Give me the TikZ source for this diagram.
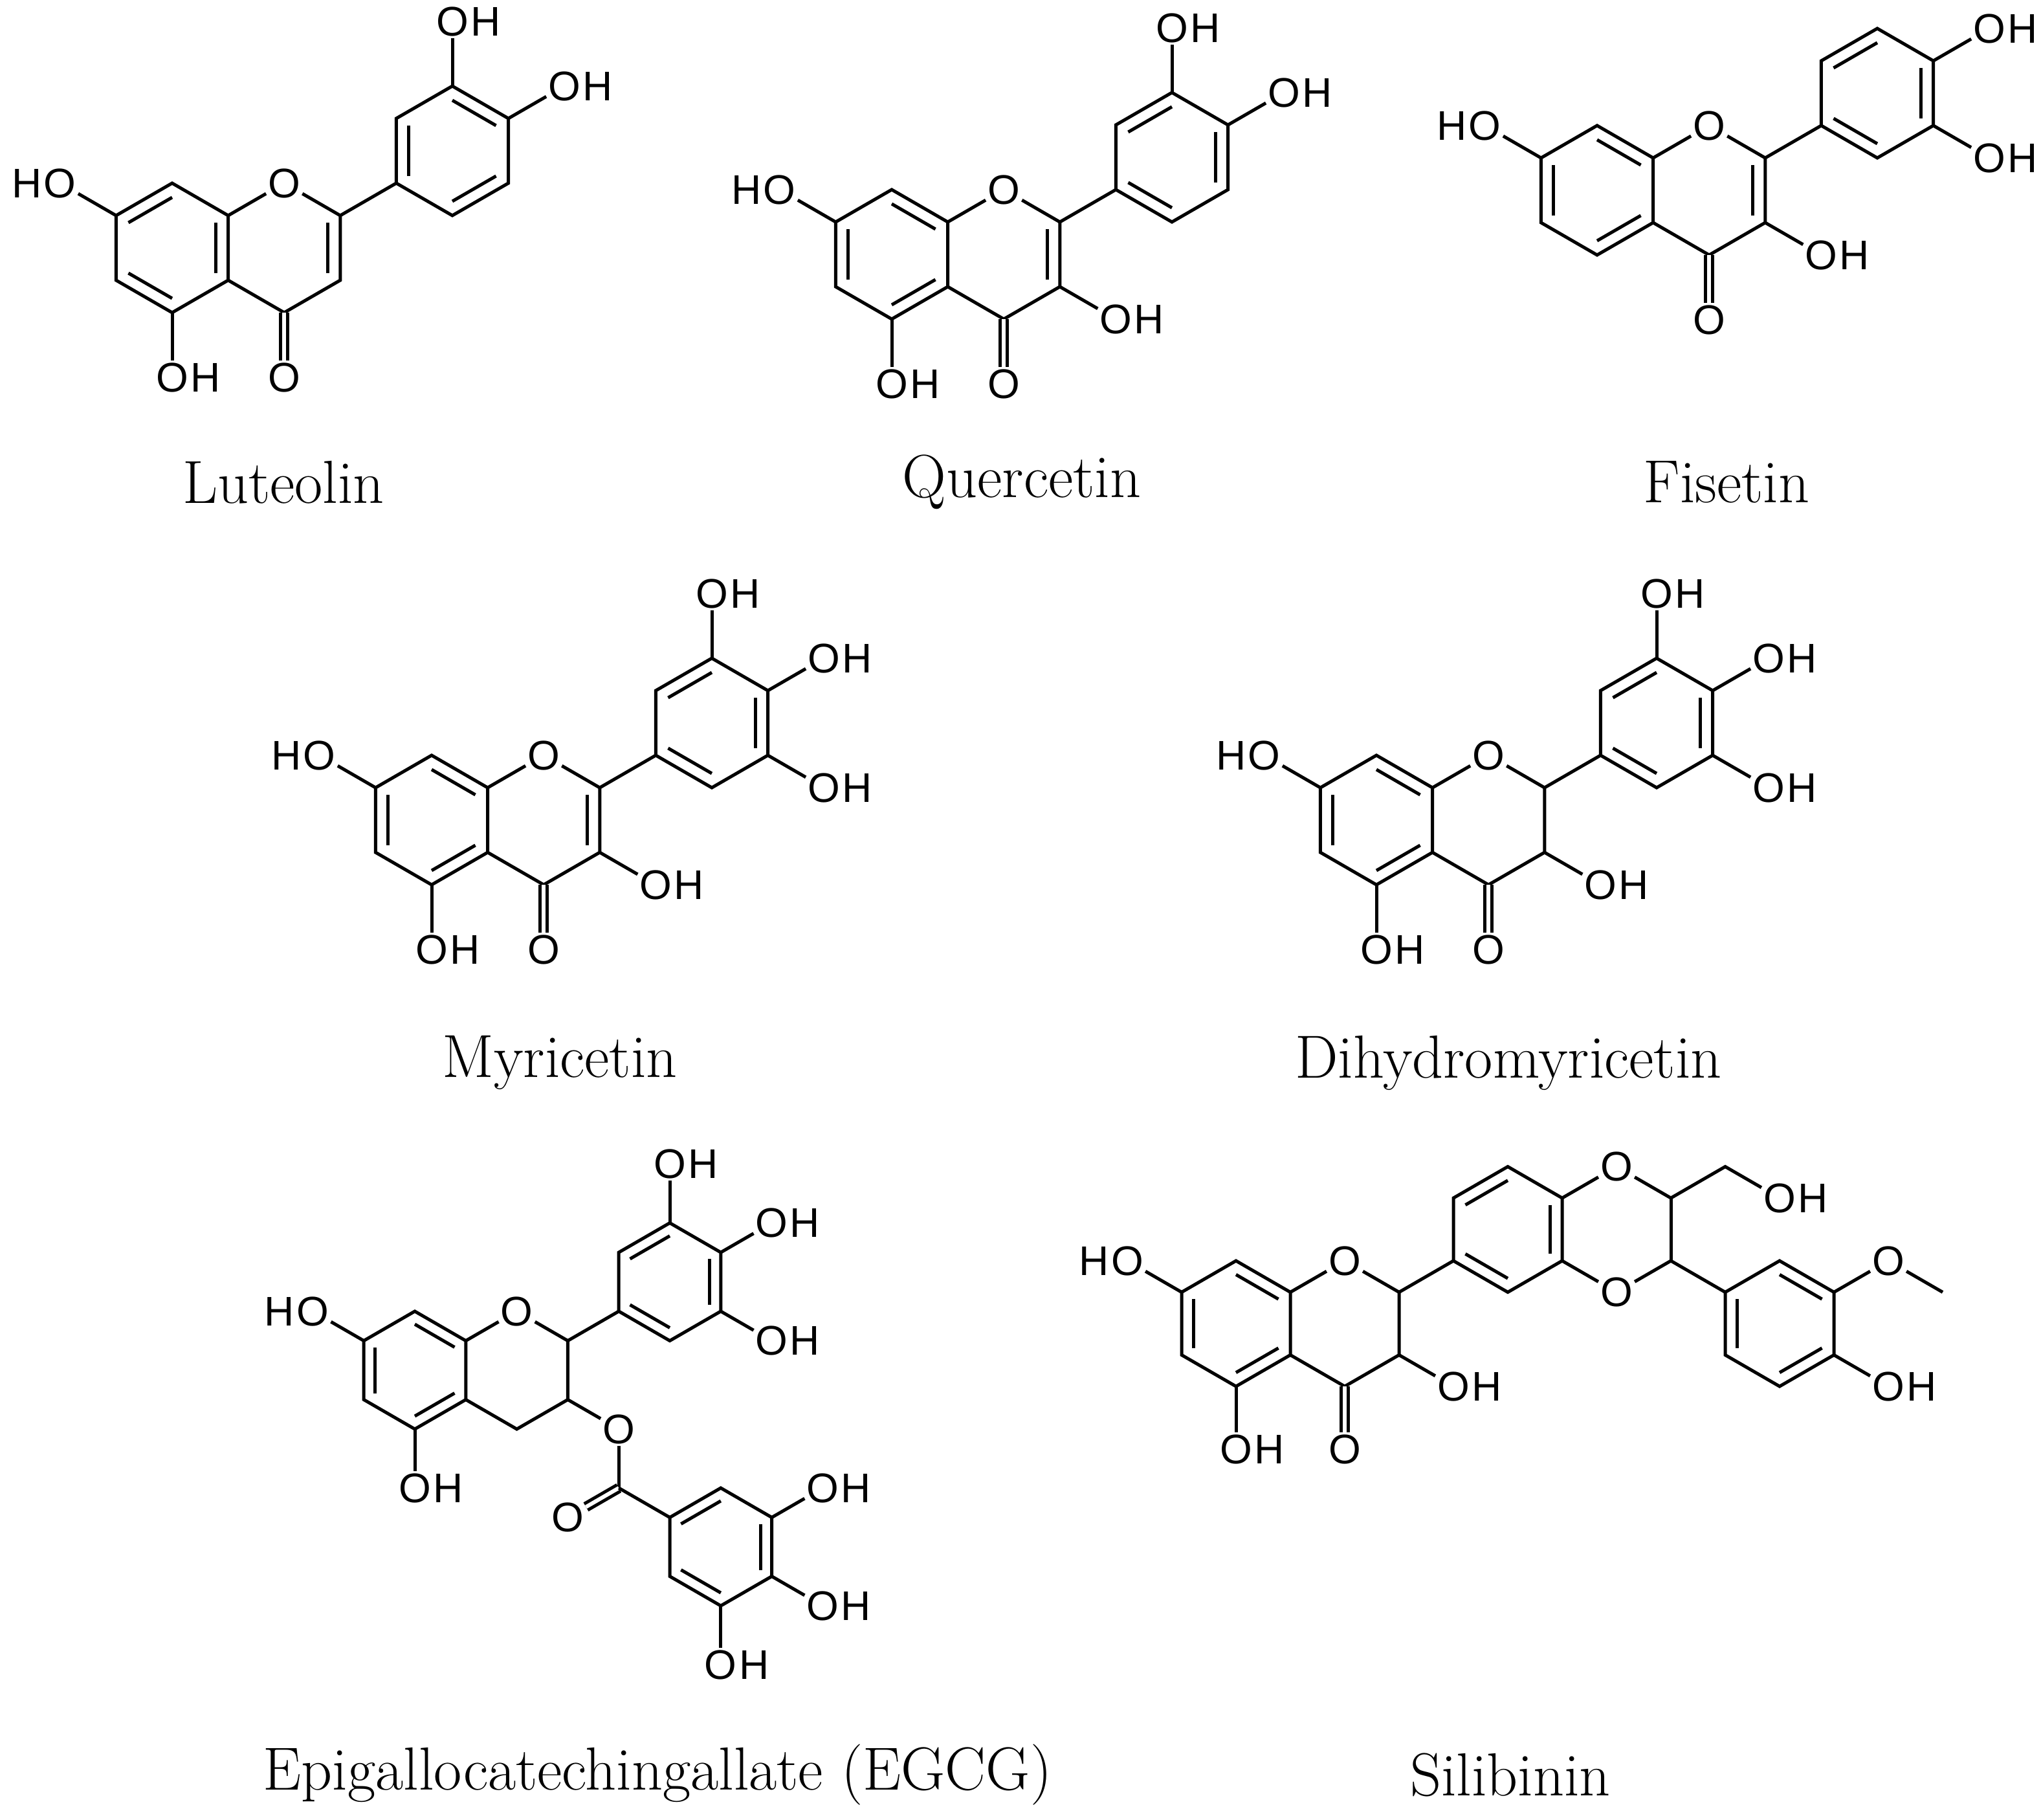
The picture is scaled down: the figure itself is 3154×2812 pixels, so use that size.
\documentclass[tikz,border=0pt]{standalone}
\usepackage{fontspec}
\newfontfamily\atomfont{Liberation Sans}
\usetikzlibrary{calc}
\tikzset{
 bond/.style={line width=5pt},
 dbond/.style={line width=5pt,double,double distance=6pt},
 atom/.style={font=\atomfont\fontsize{64}{64}\selectfont,inner sep=3pt},
 atomh/.style={font=\atomfont\fontsize{64}{64}\selectfont,inner sep=0pt},
 captext/.style={font=\fontsize{94}{110}\selectfont,inner sep=0pt}
}
\newcommand\hexat[3]{%
 \coordinate (#1-c) at ({#2},{#3});
 \coordinate (#1-1) at ({#2},{#3-1});
 \coordinate (#1-2) at ({#2+0.866},{#3-0.5});
 \coordinate (#1-3) at ({#2+0.866},{#3+0.5});
 \coordinate (#1-4) at ({#2},{#3+1});
 \coordinate (#1-5) at ({#2-0.866},{#3+0.5});
 \coordinate (#1-6) at ({#2-0.866},{#3-0.5});}
\newcommand\hexring[1]{\draw[bond] (#1-1)--(#1-2)--(#1-3)--(#1-4)--(#1-5)--(#1-6)--cycle;}
\newcommand\dbl[3]{\draw[bond] ($(#1)!0.78!(#2)$) -- ($(#1)!0.78!(#3)$);}
\newcommand\Oat[2]{\node[atom] (#1) at #2 {O};}
\newcommand\OHat[2]{\node[atom] (#1) at #2 {O};\node[atomh,anchor=base west] (#1h) at (#1.base east) {H};}
\newcommand\HOat[2]{\node[atom] (#1) at #2 {O};\node[atomh,anchor=base east] (#1h) at (#1.base west) {H};}
% flavonoid skeleton (rings A and C)
\newcommand\skel[1]{%
 \hexat{#1A}{0}{0}\hexring{#1A}
 \coordinate (#1C-c) at (1.732,0);
 \Oat{#1O1}{(1.732,-1)}
 \coordinate (#1C2) at (2.598,-0.5);
 \coordinate (#1C3) at (2.598,0.5);
 \coordinate (#1C4) at (1.732,1);
 \draw[bond] (#1A-2)--(#1O1);
 \draw[bond] (#1O1)--(#1C2);
 \draw[bond] (#1C2)--(#1C3)--(#1C4)--(#1A-3);}
\begin{document}
\begin{tikzpicture}[x=1pt,y=-1pt]
\useasboundingbox (0,0) rectangle (3154,2812);
% ---------------- Luteolin
\begin{scope}[shift={(266,383)},x=100pt,y=-100pt]
 \skel{lu}
 \hexat{luB}{4.330}{-1.5}\hexring{luB}
 \draw[bond] (luC2)--(luB-5);
 \dbl{luA-c}{luA-6}{luA-1}\dbl{luA-c}{luA-5}{luA-4}\dbl{luA-c}{luA-2}{luA-3}
 \dbl{luC-c}{luC2}{luC3}
 \dbl{luB-c}{luB-5}{luB-6}\dbl{luB-c}{luB-1}{luB-2}\dbl{luB-c}{luB-3}{luB-4}
 \HOat{luO7}{(-1.732,-1)}\draw[bond] (luA-6)--(luO7);
 \OHat{luO5}{(0,2)}\draw[bond] (luA-4)--(luO5);
 \Oat{luO4}{(1.732,2)}\draw[dbond] (luC4)--(luO4);
 \OHat{luO3p}{(4.330,-3.5)}\draw[bond] (luB-1)--(luO3p);
 \OHat{luO4p}{(6.062,-2.5)}\draw[bond] (luB-2)--(luO4p);
\end{scope}
\node[captext] (lucap) at (438,745) {Luteolin};
% ---------------- Quercetin
\begin{scope}[shift={(1378,393)},x=100pt,y=-100pt]
 \skel{qu}
 \hexat{quB}{4.330}{-1.5}\hexring{quB}
 \draw[bond] (quC2)--(quB-5);
 \dbl{quA-c}{quA-1}{quA-2}\dbl{quA-c}{quA-5}{quA-6}\dbl{quA-c}{quA-3}{quA-4}
 \dbl{quC-c}{quC2}{quC3}
 \dbl{quB-c}{quB-6}{quB-1}\dbl{quB-c}{quB-2}{quB-3}\dbl{quB-c}{quB-4}{quB-5}
 \HOat{quO7}{(-1.732,-1)}\draw[bond] (quA-6)--(quO7);
 \OHat{quO5}{(0,2)}\draw[bond] (quA-4)--(quO5);
 \Oat{quO4}{(1.732,2)}\draw[dbond] (quC4)--(quO4);
 \OHat{quO3}{(3.464,1)}\draw[bond] (quC3)--(quO3);
 \OHat{quO3p}{(4.330,-3.5)}\draw[bond] (quB-1)--(quO3p);
 \OHat{quO4p}{(6.062,-2.5)}\draw[bond] (quB-2)--(quO4p);
\end{scope}
\node[captext] (qucap) at (1579,745) {Quercetin};
% ---------------- Fisetin
\begin{scope}[shift={(2468,294)},x=100pt,y=-100pt]
 \skel{fi}
 \hexat{fiB}{4.330}{-1.5}\hexring{fiB}
 \draw[bond] (fiC2)--(fiB-5);
 \dbl{fiA-c}{fiA-1}{fiA-2}\dbl{fiA-c}{fiA-5}{fiA-6}\dbl{fiA-c}{fiA-3}{fiA-4}
 \dbl{fiC-c}{fiC2}{fiC3}
 \dbl{fiB-c}{fiB-6}{fiB-1}\dbl{fiB-c}{fiB-2}{fiB-3}\dbl{fiB-c}{fiB-4}{fiB-5}
 \HOat{fiO7}{(-1.732,-1)}\draw[bond] (fiA-6)--(fiO7);
 \Oat{fiO4}{(1.732,2)}\draw[dbond] (fiC4)--(fiO4);
 \OHat{fiO3}{(3.464,1)}\draw[bond] (fiC3)--(fiO3);
 \OHat{fiO4p}{(6.062,-2.5)}\draw[bond] (fiB-2)--(fiO4p);
 \OHat{fiO3p}{(6.062,-0.5)}\draw[bond] (fiB-3)--(fiO3p);
\end{scope}
\node[captext] (ficap) at (2668,745) {Fisetin};
% ---------------- Myricetin
\begin{scope}[shift={(667,1267)},x=100pt,y=-100pt]
 \skel{my}
 \hexat{myB}{4.330}{-1.5}\hexring{myB}
 \draw[bond] (myC2)--(myB-5);
 \dbl{myA-c}{myA-1}{myA-2}\dbl{myA-c}{myA-5}{myA-6}\dbl{myA-c}{myA-3}{myA-4}
 \dbl{myC-c}{myC2}{myC3}
 \dbl{myB-c}{myB-6}{myB-1}\dbl{myB-c}{myB-2}{myB-3}\dbl{myB-c}{myB-4}{myB-5}
 \HOat{myO7}{(-1.732,-1)}\draw[bond] (myA-6)--(myO7);
 \OHat{myO5}{(0,2)}\draw[bond] (myA-4)--(myO5);
 \Oat{myO4}{(1.732,2)}\draw[dbond] (myC4)--(myO4);
 \OHat{myO3}{(3.464,1)}\draw[bond] (myC3)--(myO3);
 \OHat{myO3p}{(4.330,-3.5)}\draw[bond] (myB-1)--(myO3p);
 \OHat{myO4p}{(6.062,-2.5)}\draw[bond] (myB-2)--(myO4p);
 \OHat{myO5p}{(6.062,-0.5)}\draw[bond] (myB-3)--(myO5p);
\end{scope}
\node[captext] (mycap) at (865,1642) {Myricetin};
% ---------------- Dihydromyricetin
\begin{scope}[shift={(2127,1267)},x=100pt,y=-100pt]
 \skel{dh}
 \hexat{dhB}{4.330}{-1.5}\hexring{dhB}
 \draw[bond] (dhC2)--(dhB-5);
 \dbl{dhA-c}{dhA-1}{dhA-2}\dbl{dhA-c}{dhA-5}{dhA-6}\dbl{dhA-c}{dhA-3}{dhA-4}
 \dbl{dhB-c}{dhB-6}{dhB-1}\dbl{dhB-c}{dhB-2}{dhB-3}\dbl{dhB-c}{dhB-4}{dhB-5}
 \HOat{dhO7}{(-1.732,-1)}\draw[bond] (dhA-6)--(dhO7);
 \OHat{dhO5}{(0,2)}\draw[bond] (dhA-4)--(dhO5);
 \Oat{dhO4}{(1.732,2)}\draw[dbond] (dhC4)--(dhO4);
 \OHat{dhO3}{(3.464,1)}\draw[bond] (dhC3)--(dhO3);
 \OHat{dhO3p}{(4.330,-3.5)}\draw[bond] (dhB-1)--(dhO3p);
 \OHat{dhO4p}{(6.062,-2.5)}\draw[bond] (dhB-2)--(dhO4p);
 \OHat{dhO5p}{(6.062,-0.5)}\draw[bond] (dhB-3)--(dhO5p);
\end{scope}
\node[captext] (dhcap) at (2331,1642) {Dihydromyricetin};
% ---------------- EGCG
\begin{scope}[shift={(641,2117)},x=91pt,y=-91pt]
 \skel{eg}
 \hexat{egB}{4.330}{-1.5}\hexring{egB}
 \draw[bond] (egC2)--(egB-5);
 \dbl{egA-c}{egA-1}{egA-2}\dbl{egA-c}{egA-5}{egA-6}\dbl{egA-c}{egA-3}{egA-4}
 \dbl{egB-c}{egB-6}{egB-1}\dbl{egB-c}{egB-2}{egB-3}\dbl{egB-c}{egB-4}{egB-5}
 \HOat{egO7}{(-1.732,-1)}\draw[bond] (egA-6)--(egO7);
 \OHat{egO5}{(0,2)}\draw[bond] (egA-4)--(egO5);
 \OHat{egO3p}{(4.330,-3.5)}\draw[bond] (egB-1)--(egO3p);
 \OHat{egO4p}{(6.062,-2.5)}\draw[bond] (egB-2)--(egO4p);
 \OHat{egO5p}{(6.062,-0.5)}\draw[bond] (egB-3)--(egO5p);
 \Oat{egOe}{(3.464,1)}\draw[bond] (egC3)--(egOe);
 \coordinate (egCc) at (3.464,2);
 \draw[bond] (egOe)--(egCc);
 \Oat{egOc}{(2.598,2.5)}\draw[dbond] (egCc)--(egOc);
 \hexat{egG}{5.196}{3}\hexring{egG}
 \draw[bond] (egCc)--(egG-6);
 \dbl{egG-c}{egG-6}{egG-1}\dbl{egG-c}{egG-2}{egG-3}\dbl{egG-c}{egG-4}{egG-5}
 \OHat{egGO3}{(6.928,2)}\draw[bond] (egG-2)--(egGO3);
 \OHat{egGO4}{(6.928,4)}\draw[bond] (egG-3)--(egGO4);
 \OHat{egGO5}{(5.196,5)}\draw[bond] (egG-4)--(egGO5);
\end{scope}
\node[captext] (egcap) at (1016,2742) {Epigallocatechingallate (EGCG)};
% ---------------- Silibinin
\begin{scope}[shift={(1910,2045)},x=97pt,y=-97pt]
 \skel{si}
 \dbl{siA-c}{siA-1}{siA-2}\dbl{siA-c}{siA-5}{siA-6}\dbl{siA-c}{siA-3}{siA-4}
 \HOat{siO7}{(-1.732,-1)}\draw[bond] (siA-6)--(siO7);
 \OHat{siO5}{(0,2)}\draw[bond] (siA-4)--(siO5);
 \Oat{siO4}{(1.732,2)}\draw[dbond] (siC4)--(siO4);
 \OHat{siO3}{(3.464,1)}\draw[bond] (siC3)--(siO3);
 \hexat{siD}{4.330}{-1.5}\hexring{siD}
 \draw[bond] (siC2)--(siD-5);
 \dbl{siD-c}{siD-6}{siD-1}\dbl{siD-c}{siD-2}{siD-3}\dbl{siD-c}{siD-4}{siD-5}
 \Oat{siOa}{(6.062,-2.5)}\Oat{siOb}{(6.062,-0.5)}
 \coordinate (siX) at (6.928,-2);
 \coordinate (siY) at (6.928,-1);
 \draw[bond] (siD-2)--(siOa);
 \draw[bond] (siOa)--(siX);
 \draw[bond] (siX)--(siY);
 \draw[bond] (siY)--(siOb);
 \draw[bond] (siOb)--(siD-3);
 \coordinate (siCH) at (7.794,-2.5);
 \OHat{siOh}{(8.660,-2)}
 \draw[bond] (siX)--(siCH)--(siOh);
 \hexat{siE}{8.660}{0}\hexring{siE}
 \draw[bond] (siY)--(siE-6);
 \dbl{siE-c}{siE-5}{siE-6}\dbl{siE-c}{siE-1}{siE-2}\dbl{siE-c}{siE-3}{siE-4}
 \Oat{siOm}{(10.392,-1)}
 \coordinate (siMe) at (11.258,-0.5);
 \draw[bond] (siE-2)--(siOm);
 \draw[bond] (siOm)--(siMe);
 \OHat{siOE}{(10.392,1)}\draw[bond] (siE-3)--(siOE);
\end{scope}
\node[captext] (sicap) at (2334,2742) {Silibinin};
\end{tikzpicture}
\end{document}
